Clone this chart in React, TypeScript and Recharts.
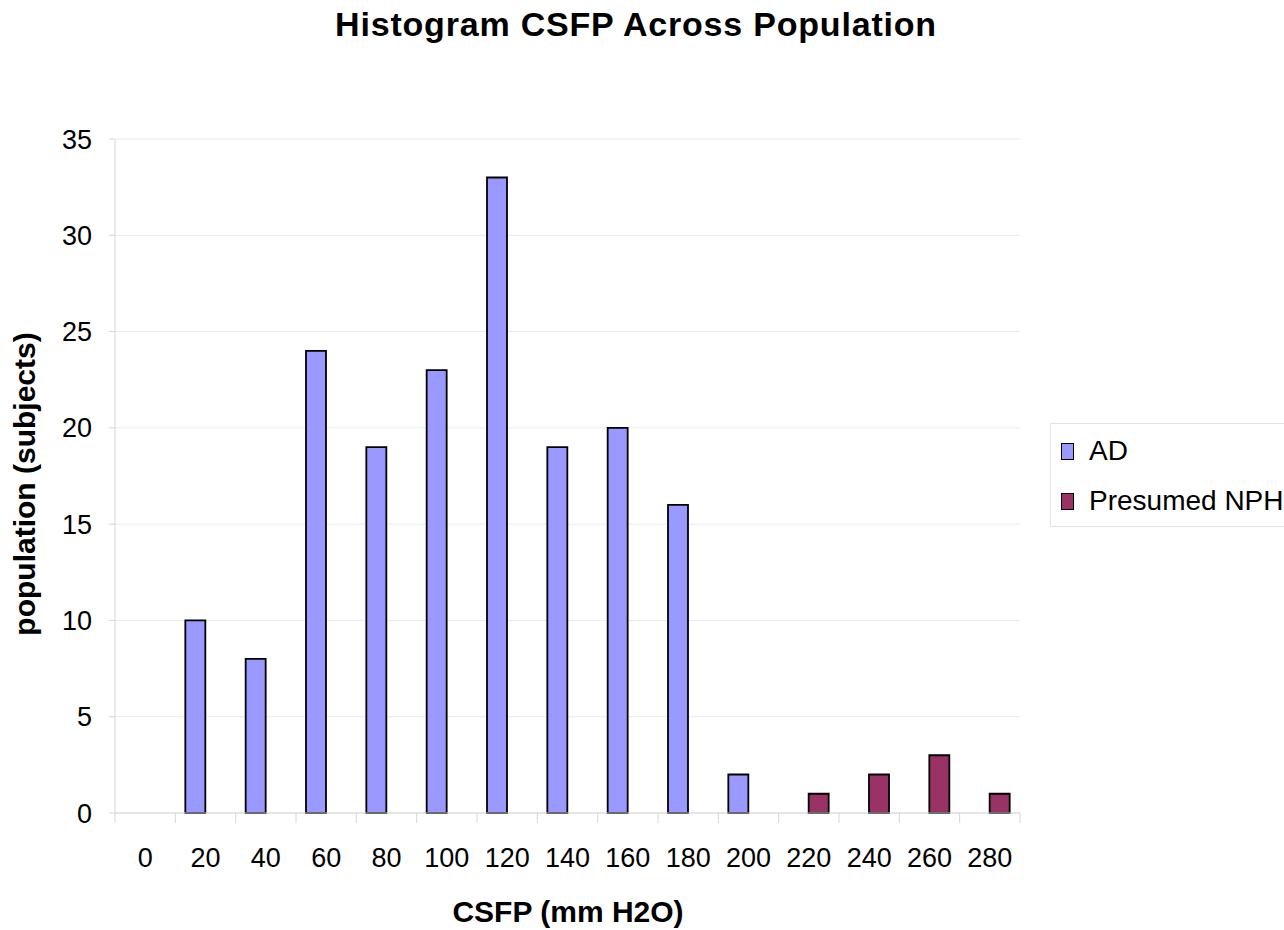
import { BarChart, Bar, XAxis, YAxis, CartesianGrid } from "recharts";

const bins = [0, 20, 40, 60, 80, 100, 120, 140, 160, 180, 200, 220, 240, 260, 280];
const adCounts = [0, 10, 8, 24, 19, 23, 33, 19, 20, 16, 2, 0, 0, 0, 0];
const nphCounts = [0, 0, 0, 0, 0, 0, 0, 0, 0, 0, 0, 1, 2, 3, 1];
const yTicks = [0, 5, 10, 15, 20, 25, 30, 35];

const data = bins.map((b, i) => ({ bin: b, ad: adCounts[i], nph: nphCounts[i] }));

const FONT = "'Liberation Sans', Arial, sans-serif";
const LIGHT = "#d6d6d6";
const X_TICK_GAP = 35;

const series = [
  { key: "ad", name: "AD", color: "#9999ff" },
  { key: "nph", name: "Presumed NPH", color: "#993366" },
];

// label at the band centre, little tick marks on the band edges (Excel style)
function BinTick(props: any) {
  const { x, y, payload, index, width, visibleTicksCount } = props;
  const band = width / visibleTicksCount;
  const axisY = y - X_TICK_GAP;
  const edge = (ex: number) => (
    <line x1={ex} x2={ex} y1={axisY} y2={axisY + 10} stroke={LIGHT} />
  );
  return (
    <g>
      {edge(x - band / 2)}
      {index === visibleTicksCount - 1 && edge(x + band / 2)}
      <text x={x} y={y} dy="0.71em" textAnchor="middle" fontSize={27} fill="#000" fontFamily={FONT}>
        {payload.value}
      </text>
    </g>
  );
}

function LegendBox() {
  return (
    <div
      style={{
        position: "absolute",
        left: 1050,
        top: 423,
        width: 260,
        height: 104,
        boxSizing: "border-box",
        border: "1px solid #e4e4e4",
        fontFamily: FONT,
        fontSize: 28,
        color: "#000",
        background: "#fff",
      }}
    >
      {series.map((s, i) => (
        <div
          key={s.key}
          style={{
            position: "absolute",
            left: 10,
            top: 11 + i * 50,
            height: 32,
            display: "flex",
            alignItems: "center",
          }}
        >
          <span
            style={{
              display: "inline-block",
              width: 11,
              height: 15,
              background: s.color,
              border: "1.5px solid #000",
              marginRight: 15,
            }}
          />
          <span style={{ whiteSpace: "nowrap" }}>{s.name}</span>
        </div>
      ))}
    </div>
  );
}

export default function App() {
  return (
    <div
      style={{
        position: "absolute",
        left: 0,
        top: 0,
        width: 1284,
        height: 930,
        overflow: "hidden",
        background: "#fff",
        fontFamily: FONT,
      }}
    >
      <div
        style={{
          position: "absolute",
          top: 5,
          left: 0,
          width: 1272,
          textAlign: "center",
          fontWeight: "bold",
          fontSize: 34,
          letterSpacing: 0.8,
        }}
      >
        Histogram CSFP Across Population
      </div>
      <BarChart
        width={1284}
        height={930}
        data={data}
        margin={{ top: 139, right: 264, bottom: 116, left: 0 }}
        barGap={0}
        barSize={20}
      >
        <CartesianGrid vertical={false} stroke="#ebebeb" />
        <XAxis
          dataKey="bin"
          height={1}
          tickLine={false}
          axisLine={{ stroke: LIGHT }}
          tickSize={0}
          tickMargin={X_TICK_GAP}
          interval={0}
          tick={<BinTick />}
        />
        <YAxis
          width={115}
          domain={[0, 35]}
          ticks={yTicks}
          tickSize={6}
          tickMargin={17}
          tickLine={{ stroke: LIGHT }}
          axisLine={{ stroke: LIGHT }}
          tick={{ fontSize: 27, fill: "#000", fontFamily: FONT }}
        />
        <YAxis
          yAxisId="frame"
          orientation="right"
          width={0}
          domain={[0, 35]}
          tick={false}
          tickLine={false}
          axisLine={{ stroke: LIGHT }}
        />
        {series.map((s) => (
          <Bar
            key={s.key}
            dataKey={s.key}
            name={s.name}
            fill={s.color}
            stroke="#000"
            strokeWidth={1.8}
            isAnimationActive={false}
          />
        ))}
      </BarChart>
      <LegendBox />
      <div
        style={{
          position: "absolute",
          left: 25,
          top: 484,
          transform: "translate(-50%, -50%) rotate(-90deg)",
          whiteSpace: "nowrap",
          fontWeight: "bold",
          fontSize: 30,
        }}
      >
        population (subjects)
      </div>
      <div
        style={{
          position: "absolute",
          top: 895,
          left: 568,
          transform: "translateX(-50%)",
          whiteSpace: "nowrap",
          fontWeight: "bold",
          fontSize: 30,
        }}
      >
        CSFP (mm H2O)
      </div>
    </div>
  );
}
